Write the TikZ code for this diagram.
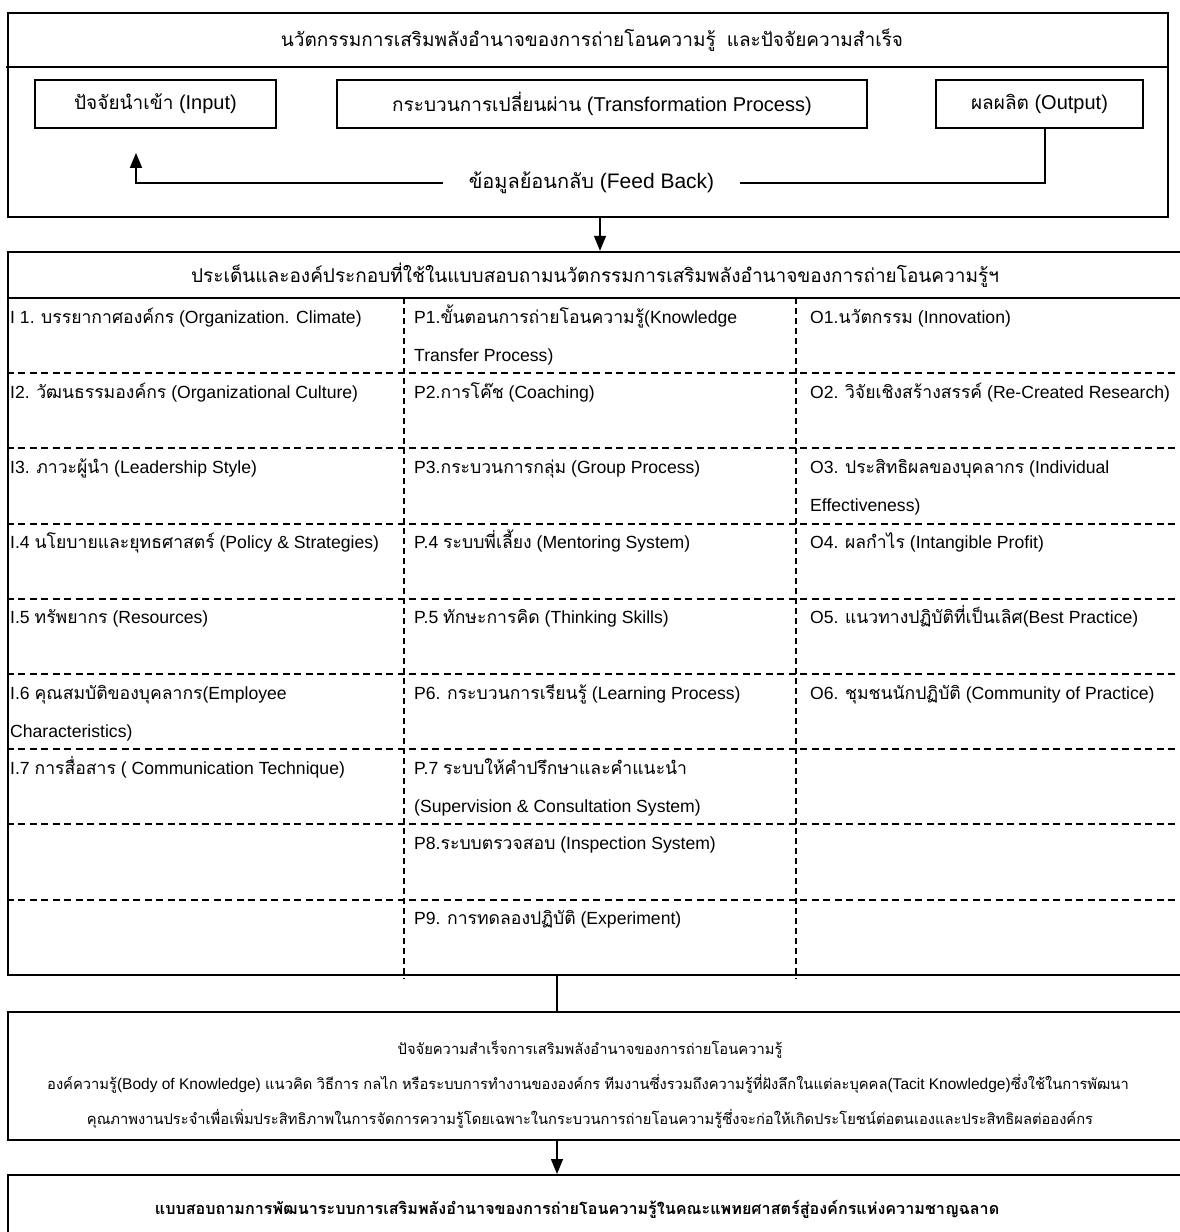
\documentclass[tikz,border=0pt]{standalone}
\usepackage{fontspec}
\setmainfont{Liberation Sans}
\newfontfamily\thaiA[Script=Thai,Scale=0.95]{Loma}
\newfontfamily\thaiB[Script=Thai,Scale=1.0]{Loma}
\let\thaicur\thaiA
\usetikzlibrary{arrows.meta}
% switch to the Thai face automatically for U+0E00..U+0E7F
\XeTeXinterchartokenstate=1
\newXeTeXintercharclass\thaiclass
\newcount\thaicode
\thaicode="0E00
\loop
  \XeTeXcharclass\thaicode=\thaiclass
  \ifnum\thaicode<"0E7F \advance\thaicode by 1
\repeat
\XeTeXinterchartoks 0 \thaiclass = {\begingroup\thaicur}
\XeTeXinterchartoks 4095 \thaiclass = {\begingroup\thaicur}
\XeTeXinterchartoks \thaiclass 0 = {\endgroup}
\XeTeXinterchartoks \thaiclass 4095 = {\endgroup}
\newcommand\twolines[2]{\begin{tabular}[t]{@{}l@{}}#1\\#2\end{tabular}}
\begin{document}
\begin{tikzpicture}[x=1pt,y=-1pt,
  frame/.style={draw, line width=2pt, inner sep=0pt},
  ibox/.style={draw, line width=1.8pt, inner sep=0pt, font=\fontsize{20}{24}\selectfont},
  txt/.style={inner sep=0pt, font=\fontsize{20}{24}\selectfont},
  dline/.style={line width=1.9pt, dash pattern=on 7pt off 4.5pt},
  vline/.style={line width=1.8pt, dash pattern=on 5.5pt off 4.5pt},
  arr/.style={line width=1.5pt, -{Triangle[length=15pt,width=12pt]}},
  conn/.style={line width=1.5pt},
  cell/.style={anchor=base west, inner sep=0pt, font=\fontsize{17.6}{38}\selectfont\let\thaicur\thaiB},
  small/.style={anchor=base, inner sep=0pt, font=\fontsize{15.5}{18}\selectfont},
]
\useasboundingbox (0,0) rectangle (1180,1232);

% ---------- model frame: input / process / output with feedback ----------
\node[frame, minimum width=1160pt, minimum height=204pt] (frame) at (588,115) {};
\draw[line width=2pt] (6,67) -- (frame.east |- 0,67);
\node[txt] (title) at (592,40) {นวัตกรรมการเสริมพลังอำนาจของการถ่ายโอนความรู้ \ และปัจจัยความสำเร็จ};
\node[ibox, minimum width=241pt, minimum height=48pt] (in)  at (155.5,104) {ปัจจัยนำเข้า (Input)};
\node[ibox, minimum width=530pt, minimum height=48pt] (proc) at (602,104) {กระบวนการเปลี่ยนผ่าน (Transformation Process)};
\node[ibox, minimum width=207pt, minimum height=48pt] (out) at (1039.5,104) {ผลผลิต (Output)};
\node[txt, minimum width=297pt, font=\fontsize{21}{24}\selectfont] (fb) at (591.5,183) {ข้อมูลย้อนกลับ (Feed Back)};
\coordinate (fbl) at (136,183);
\coordinate (fbr) at (1045,183);
\draw[arr, shorten >=24pt] (fb.west) -- (fbl) -- (fbl |- in.south);
\draw[conn] (fb.east) -- (fbr) -- (fbr |- out.south);

% ---------- questionnaire components table ----------
\node[draw, line width=2.4pt, inner sep=0pt, minimum width=1177pt, minimum height=723pt] (tbl) at (596.5,613.5) {};
\coordinate (ax) at (600,0);
\draw[arr] (frame.south -| ax) -- (tbl.north -| ax);
\node[txt] (head) at (595,275) {ประเด็นและองค์ประกอบที่ใช้ในแบบสอบถามนวัตกรรมการเสริมพลังอำนาจของการถ่ายโอนความรู้ฯ};
\draw[line width=2.4pt] (tbl.west |- 0,298) -- (tbl.east |- 0,298);
\foreach \y in {373.2,448.4,523.6,598.8,674,749.2,824.4,899.6}
  \draw[dline] (tbl.west |- 0,\y) -- (tbl.east |- 0,\y);
\foreach \x in {404,796}
  \draw[vline] (\x,298) -- (\x,979);

% column I
\node[cell] (i1) at (10,323)   {I 1. บรรยากาศองค์กร (Organization. Climate)};
\node[cell] (i2) at (10,398.2) {I2. วัฒนธรรมองค์กร (Organizational Culture)};
\node[cell] (i3) at (10,473.4) {I3. ภาวะผู้นำ (Leadership Style)};
\node[cell] (i4) at (10,548.6) {I.4 นโยบายและยุทธศาสตร์ (Policy \& Strategies)};
\node[cell] (i5) at (10,623.8) {I.5 ทรัพยากร (Resources)};
\node[cell] (i6) at (10,699)   {\twolines{I.6 คุณสมบัติของบุคลากร(Employee}{Characteristics)}};
\node[cell] (i7) at (10,774.2) {I.7 การสื่อสาร ( Communication Technique)};
% column P
\node[cell] (p1) at (414,323)   {\twolines{P1.ขั้นตอนการถ่ายโอนความรู้(Knowledge}{Transfer Process)}};
\node[cell] (p2) at (414,398.2) {P2.การโค๊ช (Coaching)};
\node[cell] (p3) at (414,473.4) {P3.กระบวนการกลุ่ม (Group Process)};
\node[cell] (p4) at (414,548.6) {P.4 ระบบพี่เลี้ยง (Mentoring System)};
\node[cell] (p5) at (414,623.8) {P.5 ทักษะการคิด (Thinking Skills)};
\node[cell] (p6) at (414,699)   {P6. กระบวนการเรียนรู้ (Learning Process)};
\node[cell] (p7) at (414,774.2) {\twolines{P.7 ระบบให้คำปรึกษาและคำแนะนำ}{(Supervision \& Consultation System)}};
\node[cell] (p8) at (414,849.4) {P8.ระบบตรวจสอบ (Inspection System)};
\node[cell] (p9) at (414,924.6) {P9. การทดลองปฏิบัติ (Experiment)};
% column O
\node[cell] (o1) at (810,323)   {O1.นวัตกรรม (Innovation)};
\node[cell] (o2) at (810,398.2) {O2. วิจัยเชิงสร้างสรรค์ (Re-Created Research)};
\node[cell] (o3) at (810,473.4) {\twolines{O3. ประสิทธิผลของบุคลากร (Individual}{Effectiveness)}};
\node[cell] (o4) at (810,548.6) {O4. ผลกำไร (Intangible Profit)};
\node[cell] (o5) at (810,623.8) {O5. แนวทางปฏิบัติที่เป็นเลิศ(Best Practice)};
\node[cell] (o6) at (810,699)   {O6. ชุมชนนักปฏิบัติ (Community of Practice)};

% ---------- success factors ----------
\node[draw, line width=2pt, inner sep=0pt, minimum width=1177pt, minimum height=128pt] (succ) at (596.5,1076) {};
\coordinate (cx) at (557,0);
\draw[conn] (tbl.south -| cx) -- (succ.north -| cx);
\node[small] (s1) at (590,1054) {ปัจจัยความสำเร็จการเสริมพลังอำนาจของการถ่ายโอนความรู้};
\node[small] (s2) at (588,1089) {องค์ความรู้(Body of Knowledge) แนวคิด วิธีการ กลไก หรือระบบการทำงานขององค์กร ทีมงานซึ่งรวมถึงความรู้ที่ฝังลึกในแต่ละบุคคล(Tacit Knowledge)ซึ่งใช้ในการพัฒนา};
\node[small] (s3) at (590,1124) {คุณภาพงานประจำเพื่อเพิ่มประสิทธิภาพในการจัดการความรู้โดยเฉพาะในกระบวนการถ่ายโอนความรู้ซึ่งจะก่อให้เกิดประโยชน์ต่อตนเองและประสิทธิผลต่อองค์กร};

% ---------- resulting questionnaire ----------
\node[draw, line width=2pt, inner sep=0pt, minimum width=1177pt, minimum height=70pt] (fin) at (596.5,1210) {};
\draw[arr] (succ.south -| cx) -- (fin.north -| cx);
\node[anchor=base, inner sep=0pt, font=\fontsize{17}{20}\selectfont\bfseries] (fintxt) at (577,1214) {แบบสอบถามการพัฒนาระบบการเสริมพลังอำนาจของการถ่ายโอนความรู้ในคณะแพทยศาสตร์สู่องค์กรแห่งความชาญฉลาด};
\end{tikzpicture}
\end{document}
